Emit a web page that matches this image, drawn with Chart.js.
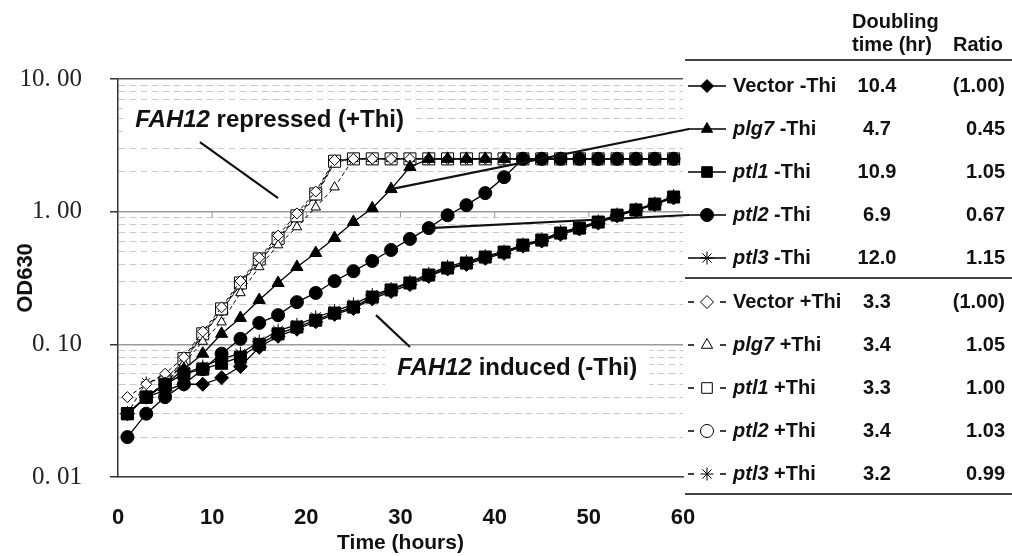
<!DOCTYPE html>
<html>
<head>
<meta charset="utf-8">
<script src="https://cdn.jsdelivr.net/npm/chart.js@4.4.0/dist/chart.umd.min.js"></script>
<style>
  body { margin: 0; background: #fff; }
  #grafico { display: block; }
</style>
</head>
<body>
<canvas id="grafico" width="1012" height="556"></canvas>
<script>
// sampling times (hours)
const times = [1, 3, 5, 7, 9, 11, 13, 15, 17, 19, 21, 23, 25, 27, 29, 31, 33, 35, 37, 39, 41, 43, 45, 47, 49, 51, 53, 55, 57, 59];

// OD630, FAH12 induced (-Thi)
const vectorMinus = [0.03, 0.04, 0.045, 0.05, 0.05, 0.056, 0.068, 0.095, 0.115, 0.13, 0.148, 0.168, 0.186, 0.22, 0.25, 0.282, 0.325, 0.37, 0.40, 0.445, 0.485, 0.55, 0.60, 0.675, 0.74, 0.82, 0.93, 1.02, 1.13, 1.27];
const plg7Minus = [0.03, 0.04, 0.05, 0.065, 0.085, 0.12, 0.158, 0.216, 0.29, 0.383, 0.488, 0.633, 0.835, 1.06, 1.48, 2.17, 2.5, 2.5, 2.5, 2.5, 2.5, 2.5, 2.5, 2.5, 2.5, 2.5, 2.5, 2.5, 2.5, 2.5];
const ptl1Minus = [0.03, 0.04, 0.05, 0.06, 0.065, 0.072, 0.08, 0.10, 0.12, 0.135, 0.152, 0.172, 0.191, 0.227, 0.257, 0.29, 0.333, 0.376, 0.41, 0.455, 0.496, 0.56, 0.611, 0.69, 0.752, 0.835, 0.942, 1.03, 1.14, 1.29];
const ptl2Minus = [0.02, 0.03, 0.04, 0.05, 0.065, 0.085, 0.11, 0.145, 0.166, 0.208, 0.244, 0.30, 0.356, 0.425, 0.514, 0.623, 0.752, 0.94, 1.12, 1.38, 1.82, 2.5, 2.5, 2.5, 2.5, 2.5, 2.5, 2.5, 2.5, 2.5];
const ptl3Minus = [0.03, 0.04, 0.05, 0.06, 0.068, 0.078, 0.085, 0.105, 0.127, 0.14, 0.16, 0.178, 0.20, 0.235, 0.262, 0.295, 0.34, 0.385, 0.42, 0.462, 0.50, 0.565, 0.615, 0.70, 0.76, 0.845, 0.95, 1.04, 1.15, 1.31];

// OD630, FAH12 repressed (+Thi)
const vectorPlus = [0.04, 0.05, 0.06, 0.08, 0.125, 0.19, 0.30, 0.45, 0.66, 0.97, 1.42, 2.45, 2.5, 2.5, 2.5, 2.5, 2.5, 2.5, 2.5, 2.5, 2.5, 2.5, 2.5, 2.5, 2.5, 2.5, 2.5, 2.5, 2.5, 2.5];
const plg7Plus = [0.03, 0.04, 0.05, 0.072, 0.105, 0.147, 0.244, 0.383, 0.56, 0.766, 1.08, 1.53, 2.5, 2.5, 2.5, 2.5, 2.5, 2.5, 2.5, 2.5, 2.5, 2.5, 2.5, 2.5, 2.5, 2.5, 2.5, 2.5, 2.5, 2.5];
const ptl1Plus = [0.03, 0.04, 0.052, 0.078, 0.12, 0.185, 0.29, 0.44, 0.63, 0.93, 1.36, 2.4, 2.5, 2.5, 2.5, 2.5, 2.5, 2.5, 2.5, 2.5, 2.5, 2.5, 2.5, 2.5, 2.5, 2.5, 2.5, 2.5, 2.5, 2.5];
const ptl2Plus = [0.03, 0.04, 0.05, 0.075, 0.118, 0.18, 0.285, 0.43, 0.62, 0.91, 1.33, 2.4, 2.5, 2.5, 2.5, 2.5, 2.5, 2.5, 2.5, 2.5, 2.5, 2.5, 2.5, 2.5, 2.5, 2.5, 2.5, 2.5, 2.5, 2.5];
const ptl3Plus = [0.03, 0.052, 0.055, 0.075, 0.115, 0.18, 0.28, 0.42, 0.61, 0.90, 1.30, 2.35, 2.5, 2.5, 2.5, 2.5, 2.5, 2.5, 2.5, 2.5, 2.5, 2.5, 2.5, 2.5, 2.5, 2.5, 2.5, 2.5, 2.5, 2.5];

// legend table
const strains = ['Vector', 'plg7', 'ptl1', 'ptl2', 'ptl3'];
const doublingTimes = ['10.4', '4.7', '10.9', '6.9', '12.0', '3.3', '3.4', '3.3', '3.4', '3.2'];
const ratios = ['(1.00)', '0.45', '1.05', '0.67', '1.15', '(1.00)', '1.05', '1.00', '1.03', '0.99'];

// y axis
const yDecades = [0.01, 0.1, 1, 10];
const yTickLabels = ['0. 01', '0. 10', '1. 00', '10. 00'];
const yMantissas = [1, 2, 3, 4, 5, 6, 7, 8, 9];

const minusSeries = [vectorMinus, plg7Minus, ptl1Minus, ptl2Minus, ptl3Minus];
const plusSeries = [vectorPlus, plg7Plus, ptl1Plus, ptl2Plus, ptl3Plus];
const markers = ['rectRot', 'triangle', 'rect', 'circle', 'star'];
const minusRadius = [7, 7, 8.5, 6.5, 7];
const plusRadius = [5.5, 5.5, 8.5, 5, 5.5];

const isDecade = v => Math.abs(Math.log10(v) - Math.round(Math.log10(v))) < 1e-6;
const sans = (italic, size) => `${italic ? 'italic ' : ''}bold ${size}px "Liberation Sans", Arial, sans-serif`;

const datasets = [];
strains.forEach((s, i) => {
  datasets.push({
    label: s + ' -Thi',
    data: minusSeries[i].map((v, k) => ({ x: times[k], y: v })),
    borderColor: '#000', borderWidth: 1.3, borderDash: [],
    pointStyle: markers[i], pointRadius: minusRadius[i],
    pointBackgroundColor: '#000', pointBorderColor: '#000', pointBorderWidth: 1
  });
});
strains.forEach((s, i) => {
  datasets.push({
    label: s + ' +Thi',
    data: plusSeries[i].map((v, k) => ({ x: times[k], y: v })),
    borderColor: '#000', borderWidth: 1, borderDash: [4, 3],
    pointStyle: markers[i], pointRadius: plusRadius[i],
    pointBackgroundColor: '#fff', pointBorderColor: '#000', pointBorderWidth: 1
  });
});

// text notes inside the plot (positions in data units)
const notes = [
  { parts: [['FAH12', true], [' repressed (+Thi)', false]], at: [16.1, 4.9], from: [8.7, 3.34], to: [17.0, 1.265] },
  { parts: [['FAH12', true], [' induced (-Thi)', false]], at: [42.4, 0.0663], from: [27.4, 0.166], to: [31.0, 0.0955] }
];

// leader lines from legend rows to a point on the curve
const leaderRows = [1, 3];
const leaderTimes = [29, 33];

const rowY = [86, 129, 172, 215, 258, 302, 345, 388, 431, 474];

function textWidth(ctx, parts, size) {
  let w = 0;
  parts.forEach(([t, it]) => { ctx.font = sans(it, size); w += ctx.measureText(t).width; });
  return w;
}
function drawParts(ctx, parts, x, y, size) {
  let cx = x;
  parts.forEach(([t, it]) => {
    ctx.font = sans(it, size);
    ctx.fillText(t, cx, y);
    cx += ctx.measureText(t).width;
  });
}

const extras = {
  id: 'extras',
  beforeDatasetsDraw(chart) {
    const { ctx, scales: { x, y } } = chart;
    ctx.save();
    // little x ticks on the 1.00 line
    const y1 = y.getPixelForValue(1);
    ctx.strokeStyle = '#999';
    ctx.lineWidth = 1;
    x.ticks.forEach(t => {
      if (t.value > 0 && t.value < 60) {
        const px = x.getPixelForValue(t.value);
        ctx.beginPath(); ctx.moveTo(px, y1); ctx.lineTo(px, y1 + 6); ctx.stroke();
      }
    });
    // labels with white boxes
    ctx.textBaseline = 'middle';
    notes.forEach(n => {
      const w = textWidth(ctx, n.parts, 24);
      const cx = x.getPixelForValue(n.at[0]);
      const cy = y.getPixelForValue(n.at[1]);
      ctx.fillStyle = '#fff';
      ctx.fillRect(cx - w / 2 - 12, cy - 19, w + 24, 38);
      ctx.fillStyle = '#111';
      drawParts(ctx, n.parts, cx - w / 2, cy, 24);
      ctx.strokeStyle = '#111';
      ctx.lineWidth = 2.2;
      ctx.beginPath();
      ctx.moveTo(x.getPixelForValue(n.from[0]), y.getPixelForValue(n.from[1]));
      ctx.lineTo(x.getPixelForValue(n.to[0]), y.getPixelForValue(n.to[1]));
      ctx.stroke();
    });
    ctx.restore();
  },
  afterDraw(chart) {
    const { ctx } = chart;
    ctx.save();
    // leader lines
    ctx.strokeStyle = '#111';
    ctx.lineWidth = 2.2;
    leaderRows.forEach((row, k) => {
      const pt = chart.getDatasetMeta(row).data[times.indexOf(leaderTimes[k])];
      ctx.beginPath(); ctx.moveTo(689, rowY[row]); ctx.lineTo(pt.x, pt.y); ctx.stroke();
    });

    // table header
    ctx.fillStyle = '#111';
    ctx.textBaseline = 'middle';
    ctx.textAlign = 'left';
    ctx.font = sans(false, 20);
    ctx.fillText('Doubling', 852, 22);
    ctx.fillText('time (hr)', 852, 45);
    ctx.fillText('Ratio', 953, 45);
    ctx.strokeStyle = '#444';
    ctx.lineWidth = 2;
    [60, 278, 494].forEach(ly => {
      ctx.beginPath(); ctx.moveTo(685, ly); ctx.lineTo(1012, ly); ctx.stroke();
    });

    // rows
    chart.data.datasets.forEach((ds, i) => {
      const ry = rowY[i];
      ctx.strokeStyle = '#000';
      ctx.lineWidth = 1.3;
      ctx.beginPath();
      if (ds.borderDash.length) {
        ctx.moveTo(688, ry); ctx.lineTo(694, ry);
        ctx.moveTo(720, ry); ctx.lineTo(726, ry);
      } else {
        ctx.moveTo(688, ry); ctx.lineTo(726, ry);
      }
      ctx.stroke();
      ctx.fillStyle = ds.pointBackgroundColor;
      ctx.lineWidth = 1;
      Chart.helpers.drawPoint(ctx, { pointStyle: ds.pointStyle, radius: ds.pointStyle === 'rect' ? 7.5 : 6.5, borderWidth: 1, rotation: 0 }, 707, ry);

      const s = strains[i % 5];
      ctx.fillStyle = '#111';
      ctx.textAlign = 'left';
      drawParts(ctx, [[s, s !== 'Vector'], [i < 5 ? ' -Thi' : ' +Thi', false]], 733, ry, 20);
      ctx.font = sans(false, 20);
      ctx.textAlign = 'center';
      ctx.fillText(doublingTimes[i], 877, ry);
      ctx.textAlign = 'right';
      ctx.fillText(ratios[i], 1005, ry);
    });
    ctx.restore();
  }
};

new Chart(document.getElementById('grafico').getContext('2d'), {
  type: 'line',
  data: { datasets: datasets },
  plugins: [extras],
  options: {
    responsive: false,
    animation: false,
    layout: { padding: { top: 79, right: 329, left: 0, bottom: 0 } },
    elements: { line: { tension: 0 } },
    plugins: { legend: { display: false }, tooltip: { enabled: false } },
    scales: {
      x: {
        type: 'linear',
        min: 0, max: 60,
        afterFit: s => { s.height = 79; },
        ticks: {
          stepSize: 10,
          padding: 28,
          color: '#111',
          font: { family: '"Liberation Sans", Arial, sans-serif', size: 22, weight: 'bold' }
        },
        grid: { drawOnChartArea: false, drawTicks: false },
        border: { color: '#444', width: 1.5 },
        title: {
          display: true,
          text: 'Time (hours)',
          color: '#111',
          padding: { top: 0, bottom: 0 },
          font: { family: '"Liberation Sans", Arial, sans-serif', size: 21, weight: 'bold' }
        }
      },
      y: {
        type: 'logarithmic',
        min: 0.01, max: 10,
        afterFit: s => { s.width = 118; },
        afterBuildTicks: s => {
          const vals = [];
          yDecades.slice(0, 3).forEach(d => yMantissas.forEach(m => vals.push(+(d * m).toPrecision(3))));
          vals.push(yDecades[3]);
          s.ticks = vals.map(v => ({ value: v }));
        },
        ticks: {
          autoSkip: false,
          padding: 28,
          color: '#222',
          font: { family: '"Liberation Serif", "DejaVu Serif", serif', size: 25 },
          callback: v => {
            const k = yDecades.findIndex(d => Math.abs(d - v) < 1e-9);
            return k >= 0 ? yTickLabels[k] : '';
          }
        },
        grid: {
          color: c => isDecade(c.tick.value) ? (c.tick.value === 10 ? '#555' : '#9a9a9a') : '#c8c8c8',
          lineWidth: c => isDecade(c.tick.value) ? 1.5 : 1,
          tickColor: c => isDecade(c.tick.value) ? '#333' : 'rgba(0,0,0,0)',
          tickLength: 8,
          tickWidth: 1.5
        },
        border: {
          color: '#333',
          width: 1.5,
          dash: c => (c.tick && !isDecade(c.tick.value)) ? [7, 4] : []
        },
        title: {
          display: true,
          text: 'OD630',
          color: '#111',
          padding: { top: 13, bottom: 0 },
          font: { family: '"Liberation Sans", Arial, sans-serif', size: 22, weight: 'bold' }
        }
      }
    }
  }
});
</script>
</body>
</html>
